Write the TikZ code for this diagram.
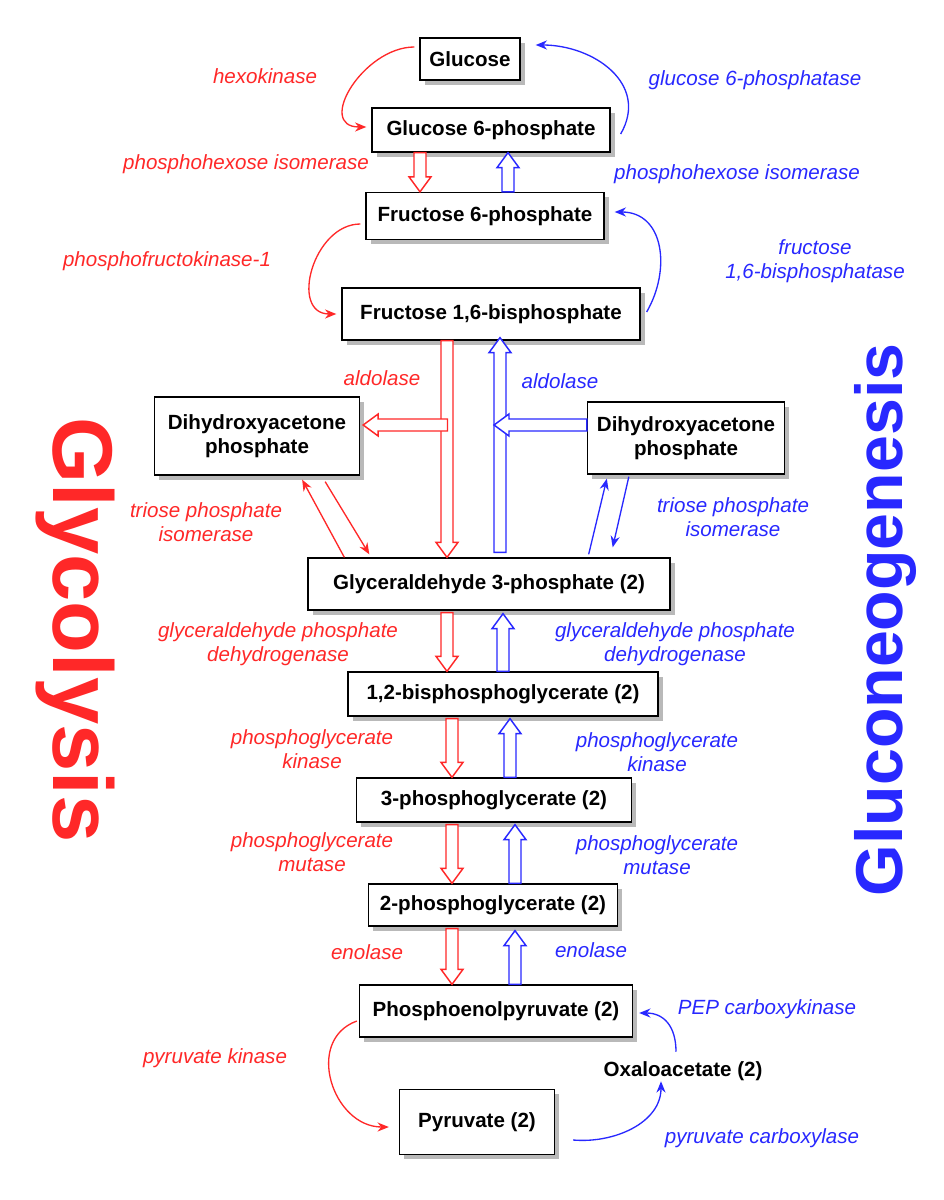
\documentclass[tikz,border=0pt]{standalone}
\usepackage{fontspec}
\setmainfont{Liberation Sans}
\usetikzlibrary{calc,shadows,arrows.meta}
\definecolor{gr}{RGB}{255,40,40}
\definecolor{gb}{RGB}{40,40,255}
\newcommand\hollowarr[3]{%
  \path (#2) coordinate (hA) (#3) coordinate (hB);
  \path ($(hB)!15*0.0265cm!(hA)$) coordinate (hC);
  \draw[#1,line width=1.1pt,fill=white,line join=miter]
    ($(hA)!6*0.0265cm!90:(hB)$) -- ($(hC)!6*0.0265cm!-90:(hA)$) --
    ($(hC)!11*0.0265cm!-90:(hA)$) -- (hB) --
    ($(hC)!11*0.0265cm!90:(hA)$) -- ($(hC)!6*0.0265cm!90:(hA)$) --
    ($(hA)!6*0.0265cm!-90:(hB)$) -- cycle;}
\begin{document}
\begin{tikzpicture}[x=0.0265cm,y=-0.0265cm,
  box/.style={draw,line width=1pt,fill=white,font=\fontsize{15.5}{18}\selectfont\bfseries,align=center,inner sep=0pt,
    drop shadow={shadow xshift=1.3mm,shadow yshift=-1.3mm,fill=gray!55,opacity=1}},
  rl/.style={text=gr,font=\fontsize{15.5}{18}\selectfont\itshape,align=center},
  bl/.style={text=gb,font=\fontsize{15.5}{18}\selectfont\itshape,align=center},
  ra/.style={gr,line width=1pt,-{Stealth[length=3mm,width=2.4mm]}},
  ba/.style={gb,line width=1pt,-{Stealth[length=3mm,width=2.4mm]}}]
\useasboundingbox (0,0) rectangle (943,1200);
\fill[white] (0,0) rectangle (943,1200);
\newcommand\bx[6]{\node[box,minimum width={#4*0.0265cm},minimum height={#5*0.0265cm}] (#1) at (#2,#3) {#6};}
\bx{glc}{470}{59}{100}{42}{Glucose}
\bx{g6p}{491}{130}{238}{44}{Glucose 6-phosphate}
\bx{f6p}{485}{216}{238}{47}{Fructose 6-phosphate}
\bx{fbp}{491}{314}{298}{52}{Fructose 1,6-bisphosphate}
\bx{dl}{257}{436}{205}{78}{Dihydroxyacetone\\phosphate}
\bx{dr}{686}{438}{197}{72}{Dihydroxyacetone\\phosphate}
\bx{gap}{489}{584}{362}{52}{Glyceraldehyde 3-phosphate (2)}
\bx{bpg}{503}{694}{310}{44}{1,2-bisphosphoglycerate (2)}
\bx{pg3}{494}{800}{275}{44}{3-phosphoglycerate (2)}
\bx{pg2}{493}{905}{249}{42}{2-phosphoglycerate (2)}
\bx{pep}{496}{1011}{273}{52}{Phosphoenolpyruvate (2)}
\bx{pyr}{477}{1122}{155}{65}{Pyruvate (2)}
\node[font=\fontsize{15.5}{18}\selectfont\bfseries] (oaa) at (683,1071) {Oxaloacetate (2)};
% hollow arrows
\hollowarr{gr}{g6p.south -| 420,0}{f6p.north -| 420,0}
\hollowarr{gb}{f6p.north -| 508,0}{g6p.south -| 508,0}
\hollowarr{gr}{fbp.south -| 447,0}{gap.north -| 447,0}
\hollowarr{gb}{$(gap.north -| 500,0)+(0,-5)$}{$(fbp.south -| 500,0)+(0,-3)$}
\coordinate (rj) at (447,425);
\hollowarr{gr}{$(rj)+(0.5,0)$}{$(dl.east |- rj)+(3,0)$}
\coordinate (bj) at (500,425);
\hollowarr{gb}{dr.west |- bj}{$(bj)+(-6,0)$}
\hollowarr{gr}{$(gap.south -| 447,0)+(0,2)$}{bpg.north -| 447,0}
\hollowarr{gb}{bpg.north -| 503,0}{$(gap.south -| 503,0)+(0,3)$}
\hollowarr{gr}{$(bpg.south -| 452,0)+(0,2)$}{pg3.north -| 452,0}
\hollowarr{gb}{pg3.north -| 510,0}{$(bpg.south -| 510,0)+(0,2)$}
\hollowarr{gr}{$(pg3.south -| 452,0)+(0,2)$}{pg2.north -| 452,0}
\hollowarr{gb}{pg2.north -| 515,0}{$(pg3.south -| 515,0)+(0,2)$}
\hollowarr{gr}{$(pg2.south -| 452,0)+(0,2)$}{pep.north -| 452,0}
\hollowarr{gb}{pep.north -| 515,0}{$(pg2.south -| 515,0)+(0,4)$}
% curved arrows
\draw[ra] ($(glc.west)+(-5,-12)$) to[out=180,in=180,looseness=1.4] ($(g6p.west)+(-5,-3)$);
\draw[ba] ($(g6p.east)+(10,4)$) to[out=60,in=0,looseness=1.2] ($(glc.east)+(15,-14)$);
\draw[ra] ($(f6p.west)+(-5,8)$) to[out=180,in=180,looseness=1.3] ($(fbp.west)+(-5,0)$);
\draw[ba] ($(fbp.east)+(6,-2)$) to[out=60,in=0,looseness=1.2] ($(f6p.east)+(10,-4)$);
\draw[ra] ($(gap.north west)+(37,0)$) -- ($(dl.south east)+(-58,4)$);
\draw[ra] ($(dl.south east)+(-35,6)$) -- ($(gap.north west)+(62,-3)$);
\draw[ba] ($(gap.north east)+(-82,-3)$) -- ($(dr.south west)+(20,4)$);
\draw[ba] ($(dr.south west)+(42,2)$) -- ($(gap.north east)+(-58,-10)$);
\draw[ra] ($(pep.west)+(-2,10)$) to[out=200,in=180,looseness=1.3] ($(pyr.west)+(-10,5)$);
\draw[ba] ($(pyr.east)+(18,18)$) to[out=-5,in=-90,looseness=1] ($(oaa.south)+(-22,-4)$);
\draw[ba] ($(oaa.north)+(-7,-5)$) to[out=90,in=0,looseness=1.2] ($(pep.east)+(6,2)$);
% labels
\node[rl] (l1) at (265,76) {hexokinase};
\node[rl] (l2) at (246,164) {phosphohexose isomerase};
\node[rl] (l3) at (167,261) {phosphofructokinase-1};
\node[rl] (l4) at (382,378) {aldolase};
\node[rl] (l5) at (206,522) {triose phosphate\\isomerase};
\node[rl] (l6) at (278,644) {glyceraldehyde phosphate\\dehydrogenase};
\node[rl] (l7) at (312,749) {phosphoglycerate\\kinase};
\node[rl] (l8) at (312,852) {phosphoglycerate\\mutase};
\node[rl] (l9) at (367,952) {enolase};
\node[rl] (l10) at (215,1058) {pyruvate kinase};
\node[bl] (m1) at (755,80) {glucose 6-phosphatase};
\node[bl] (m2) at (737,174) {phosphohexose isomerase};
\node[bl] (m3) at (815,261) {fructose\\1,6-bisphosphatase};
\node[bl] (m4) at (560,381) {aldolase};
\node[bl] (m5) at (733,517) {triose phosphate\\isomerase};
\node[bl] (m6) at (675,644) {glyceraldehyde phosphate\\dehydrogenase};
\node[bl] (m7) at (657,752) {phosphoglycerate\\kinase};
\node[bl] (m8) at (657,855) {phosphoglycerate\\mutase};
\node[bl] (m9) at (591,950) {enolase};
\node[bl] (m10) at (767,1009) {PEP carboxykinase};
\node[bl] (m11) at (762,1138) {pyruvate carboxylase};
\node[text=gr,font=\fontsize{64}{70}\selectfont\bfseries,rotate=-90] (t1) at (75,630) {Glycolysis};
\node[text=gb,font=\fontsize{50}{56}\selectfont\bfseries,rotate=90] (t2) at (885,620) {Gluconeogenesis};
\end{tikzpicture}
\end{document}
